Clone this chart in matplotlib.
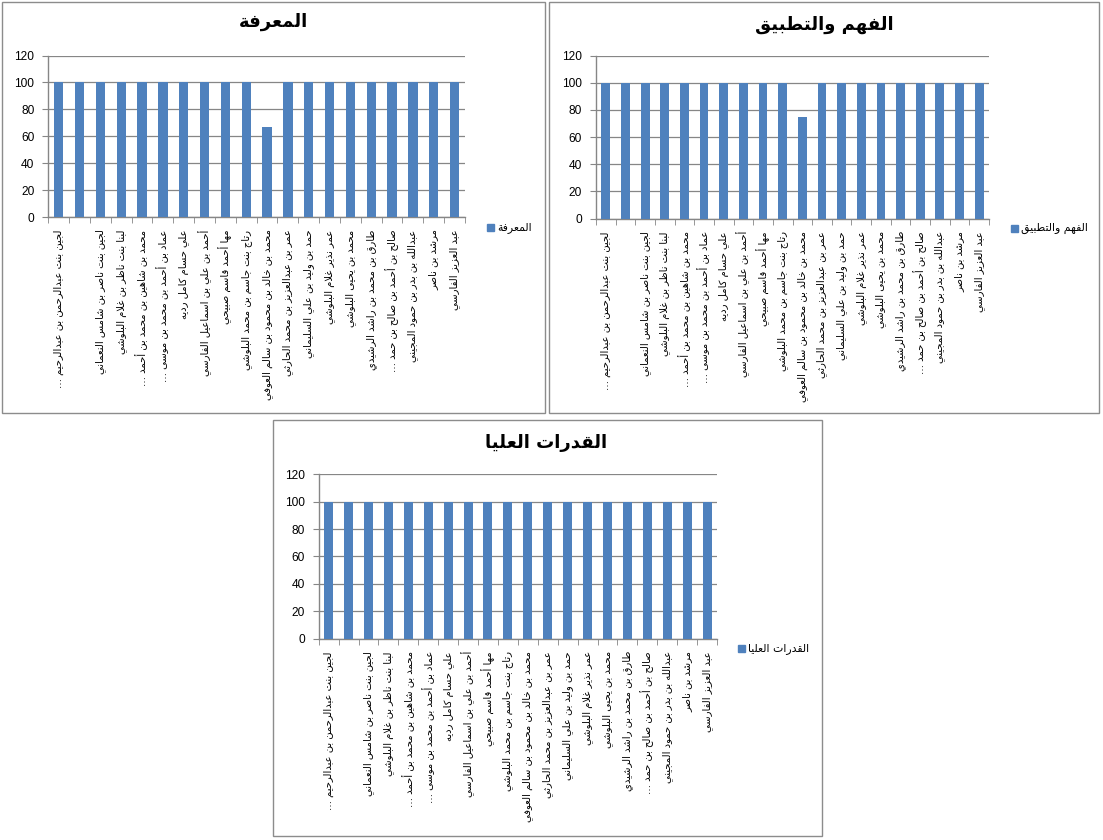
import matplotlib
matplotlib.use("Agg")
import matplotlib.pyplot as plt
from matplotlib.patches import Rectangle

# ---------------- data ----------------
names = [
    "لجين بنت عبدالرحمن بن عبدالرحيم …",
    "",
    "لجين بنت ناصر بن شامس النعماني",
    "لبنا بنت ناظر بن غلام البلوشي",
    "محمد بن شاهين بن محمد بن أحمد …",
    "عماد بن أحمد بن محمد بن موسى …",
    "علي حسام كامل رديه",
    "أحمد بن علي بن اسماعيل الفارسي",
    "مها أحمد قاسم صبيحي",
    "رتاج بنت جاسم بن محمد البلوشي",
    "محمد بن خالد بن محمود بن سالم العوفي",
    "عمر بن عبدالعزيز بن محمد الحارثي",
    "حمد بن وليد بن علي السليماني",
    "عمر نذير غلام البلوشي",
    "محمد بن يحيى البلوشي",
    "طارق بن محمد بن راشد الرشيدي",
    "صالح بن أحمد بن صالح بن حمد …",
    "عبدالله بن بدر بن حمود المجيني",
    "مرشد بن ناصر",
    "عبد العزيز الفارسي",
]
knowledge = [100, 100, 100, 100, 100, 100, 100, 100, 100, 100,
             66.67, 100, 100, 100, 100, 100, 100, 100, 100, 100]
understanding = [100, 100, 100, 100, 100, 100, 100, 100, 100, 100,
                 75, 100, 100, 100, 100, 100, 100, 100, 100, 100]
higher = [100, 100, 100, 100, 100, 100, 100, 100, 100, 100,
          100, 100, 100, 100, 100, 100, 100, 100, 100, 100]
titles = ["المعرفة", "الفهم والتطبيق", "القدرات العليا"]
yticks = [0, 20, 40, 60, 80, 100, 120]

# ---------------- simple Arabic shaping ----------------
_DUAL = {'ئ': 0xFE89, 'ب': 0xFE8F, 'ت': 0xFE95, 'ث': 0xFE99, 'ج': 0xFE9D,
         'ح': 0xFEA1, 'خ': 0xFEA5, 'س': 0xFEB1, 'ش': 0xFEB5, 'ص': 0xFEB9,
         'ض': 0xFEBD, 'ط': 0xFEC1, 'ظ': 0xFEC5, 'ع': 0xFEC9, 'غ': 0xFECD,
         'ف': 0xFED1, 'ق': 0xFED5, 'ك': 0xFED9, 'ل': 0xFEDD, 'م': 0xFEE1,
         'ن': 0xFEE5, 'ه': 0xFEE9, 'ي': 0xFEF1}
_RIGHT = {'آ': 0xFE81, 'أ': 0xFE83, 'ؤ': 0xFE85, 'إ': 0xFE87, 'ا': 0xFE8D,
          'ة': 0xFE93, 'د': 0xFEA9, 'ذ': 0xFEAB, 'ر': 0xFEAD, 'ز': 0xFEAF,
          'و': 0xFEED, 'ى': 0xFEEF}
_LAMALEF = {'آ': 0xFEF5, 'أ': 0xFEF7, 'إ': 0xFEF9, 'ا': 0xFEFB}


def ar(s):
    toks = []
    i = 0
    while i < len(s):
        c = s[i]
        if c == 'ل' and i + 1 < len(s) and s[i + 1] in _LAMALEF:
            toks.append(('LA', s[i + 1]))
            i += 2
        else:
            toks.append(('C', c))
            i += 1

    def kind(t):
        if t is None:
            return None
        if t[0] == 'LA':
            return 'R'
        if t[1] in _DUAL:
            return 'D'
        if t[1] in _RIGHT:
            return 'R'
        return None

    out = []
    for j, t in enumerate(toks):
        prev = toks[j - 1] if j > 0 else None
        nxt = toks[j + 1] if j + 1 < len(toks) else None
        k = kind(t)
        cp = k is not None and kind(prev) == 'D'
        cn = k == 'D' and kind(nxt) in ('D', 'R')
        if t[0] == 'LA':
            out.append(chr(_LAMALEF[t[1]] + (1 if cp else 0)))
        elif k == 'D':
            off = {(False, False): 0, (True, False): 1, (False, True): 2, (True, True): 3}[(cp, cn)]
            out.append(chr(_DUAL[t[1]] + off))
        elif k == 'R':
            out.append(chr(_RIGHT[t[1]] + (1 if cp else 0)))
        else:
            out.append(t[1])
    return ''.join(reversed(out))


# ---------------- figure ----------------
W, H = 1103, 840
fig = plt.figure(figsize=(W / 100, H / 100), dpi=100)
fig.patch.set_facecolor('white')
FAM = ['Liberation Sans', 'DejaVu Sans']
ARFAM = ['DejaVu Sans']
BAR = '#4F81BD'
GRID = '#868686'


def fx(x):
    return x / W


def fy(y):
    return 1 - y / H


def box(x0, y0, x1, y1):
    fig.add_artist(Rectangle((fx(x0), fy(y1)), fx(x1) - fx(x0), fy(y0) - fy(y1),
                             transform=fig.transFigure, fill=False,
                             edgecolor='#8c8c8c', lw=1.0))


def chart(values, title, rect, title_xy, leg_xy):
    x0, y0, x1, y1 = rect
    ax = fig.add_axes([fx(x0), fy(y1), fx(x1) - fx(x0), fy(y0) - fy(y1)])
    pos = list(range(len(values)))
    ax.bar(pos, values, width=0.45, color=BAR, zorder=3)
    ax.set_xlim(-0.5, len(values) - 0.5)
    ax.set_ylim(0, 120)
    ax.set_yticks(yticks)
    ax.set_yticklabels([str(v) for v in yticks], fontsize=8.6, family=FAM)
    ax.yaxis.grid(True, color=GRID, lw=0.9, zorder=0)
    ax.set_axisbelow(True)
    for s in ['top', 'right']:
        ax.spines[s].set_visible(False)
    for s in ['left', 'bottom']:
        ax.spines[s].set_color(GRID)
        ax.spines[s].set_linewidth(1.0)
    ax.set_xticks(pos)
    ax.set_xticklabels([ar(n) for n in names], rotation=90, va='top', ha='center',
                       fontsize=7.2, family=ARFAM)
    ax.set_xticks([p - 0.5 for p in pos] + [len(values) - 0.5], minor=True)
    ax.tick_params(axis='x', which='major', length=0, pad=9)
    ax.tick_params(axis='x', which='minor', length=4, color=GRID, direction='out')
    ax.tick_params(axis='y', length=4, color=GRID, direction='out', pad=6)
    fig.text(fx(title_xy[0]), fy(title_xy[1]), ar(title), ha='center', va='center',
             fontsize=13, fontweight='bold', family=ARFAM)
    lx, ly = leg_xy
    fig.add_artist(Rectangle((fx(lx), fy(ly + 7)), 7 / W, 7 / H,
                             transform=fig.transFigure, color=BAR))
    fig.text(fx(lx + 10), fy(ly + 3.5), ar(title), ha='left', va='center',
             fontsize=7.8, family=ARFAM)
    return ax


box(2, 2, 545, 413)
box(549, 2, 1099, 413)
box(273, 420, 822, 836)

chart(knowledge, titles[0], (48.3, 55.5, 465, 217), (273, 22), (487, 224))
chart(understanding, titles[1], (596, 55.5, 989, 218.5), (824, 25), (1011, 225))
chart(higher, titles[2], (318.7, 474.3, 717, 638.6), (546, 443), (738, 645))

fig.savefig('out.png', dpi=100, facecolor='white')
